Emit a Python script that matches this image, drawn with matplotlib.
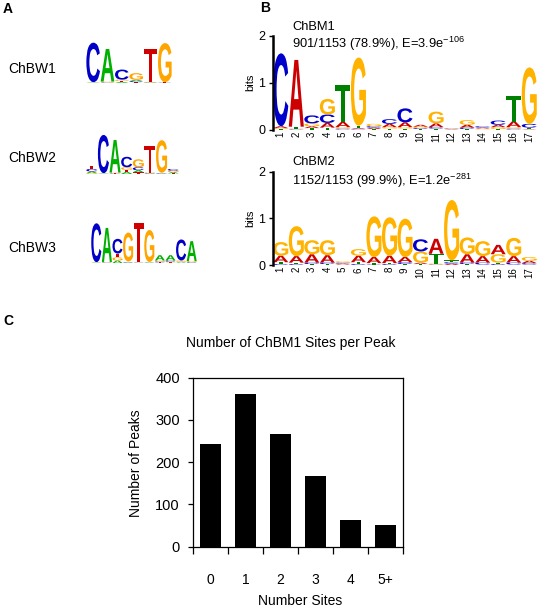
import matplotlib
matplotlib.use("Agg")
import matplotlib.pyplot as plt
from matplotlib.textpath import TextPath
from matplotlib.patches import PathPatch
from matplotlib.font_manager import FontProperties
from matplotlib.transforms import Affine2D

plt.rcParams['font.family'] = ['Liberation Sans', 'DejaVu Sans']
plt.rcParams['mathtext.fontset'] = 'custom'
plt.rcParams['mathtext.rm'] = 'Liberation Sans'
plt.rcParams['mathtext.it'] = 'Liberation Sans:italic'
plt.rcParams['mathtext.bf'] = 'Liberation Sans:bold'

# ---------------- data ----------------
# Panel A logos (bits per letter per position)
bw1_A = [0.02, 1.55, 0.05, 0.06, 0.02, 0.01]
bw1_C = [1.88, 0.02, 0.48, 0.05, 0.01, 0.01]
bw1_G = [0.01, 0.04, 0.06, 0.32, 0.02, 1.86]
bw1_T = [0.01, 0.01, 0.05, 0.04, 1.57, 0.02]

bw2_A = [0.08, 0.02, 1.55, 0.10, 0.10, 0.02, 0.02, 0.06]
bw2_C = [0.12, 1.82, 0.02, 0.50, 0.14, 0.02, 0.02, 0.08]
bw2_G = [0.04, 0.01, 0.03, 0.12, 0.38, 0.03, 1.55, 0.07]
bw2_T = [0.14, 0.01, 0.02, 0.10, 0.08, 1.28, 0.02, 0.03]

bw3_A = [0.02, 1.62, 0.12, 0.02, 0.01, 0.02, 0.25, 0.25, 0.04, 0.95]
bw3_C = [1.85, 0.02, 0.70, 0.02, 0.01, 0.01, 0.04, 0.05, 1.00, 0.03]
bw3_G = [0.01, 0.02, 0.15, 1.38, 0.01, 1.52, 0.05, 0.04, 0.06, 0.05]
bw3_T = [0.01, 0.01, 0.18, 0.03, 1.88, 0.02, 0.03, 0.03, 0.02, 0.01]

bw_names = ["ChBW1", "ChBW2", "ChBW3"]

# Panel B logos
bm_positions = list(range(1, 18))
bm1_A = [0.04, 1.42, 0.04, 0.10, 0.11, 0.02, 0.03, 0.07, 0.10, 0.04, 0.08, 0.01, 0.06, 0.02, 0.05, 0.12, 0.01]
bm1_C = [1.55, 0.01, 0.17, 0.18, 0.02, 0.01, 0.03, 0.10, 0.30, 0.02, 0.03, 0.01, 0.03, 0.03, 0.09, 0.02, 0.08]
bm1_G = [0.02, 0.01, 0.06, 0.33, 0.03, 1.45, 0.05, 0.03, 0.03, 0.03, 0.25, 0.01, 0.10, 0.01, 0.04, 0.03, 1.20]
bm1_T = [0.01, 0.04, 0.03, 0.04, 0.78, 0.05, 0.01, 0.02, 0.02, 0.01, 0.02, 0.01, 0.01, 0.01, 0.01, 0.55, 0.03]

bm2_A = [0.14, 0.14, 0.18, 0.16, 0.02, 0.14, 0.13, 0.16, 0.11, 0.03, 0.32, 0.03, 0.18, 0.14, 0.20, 0.14, 0.05]
bm2_C = [0.02, 0.02, 0.03, 0.03, 0.02, 0.02, 0.01, 0.02, 0.04, 0.26, 0.01, 0.03, 0.03, 0.04, 0.02, 0.04, 0.03]
bm2_G = [0.29, 0.64, 0.30, 0.32, 0.03, 0.14, 0.87, 0.82, 0.82, 0.24, 0.02, 1.29, 0.36, 0.32, 0.18, 0.39, 0.08]
bm2_T = [0.04, 0.03, 0.02, 0.02, 0.01, 0.04, 0.03, 0.02, 0.02, 0.02, 0.21, 0.04, 0.02, 0.01, 0.03, 0.01, 0.01]

bm_titles = ["ChBM1", "ChBM2"]
bm_stats = ["901/1153 (78.9%), E=3.9e$^{-106}$", "1152/1153 (99.9%), E=1.2e$^{-281}$"]

# Panel C bar chart
site_labels = ["0", "1", "2", "3", "4", "5+"]
peak_counts = [242, 362, 267, 166, 62, 50]

# ---------------- drawing helpers ----------------
W, H = 539, 609
fig = plt.figure(figsize=(W / 100, H / 100), dpi=100)

def px_axes(left, top, right, bottom):
    return fig.add_axes([left / W, 1 - bottom / H, (right - left) / W, (bottom - top) / H])

def ftext(x, y, s, **kw):
    return fig.text(x / W, 1 - y / H, s, **kw)

LOGO_FP = FontProperties(family='Liberation Sans', weight='bold')
_cache = {}

def draw_letter(ax, ch, xc, y, w, h, color):
    if ch not in _cache:
        _cache[ch] = TextPath((0, 0), ch, size=1, prop=LOGO_FP)
    tp = _cache[ch]
    bb = tp.get_extents()
    t = (Affine2D().translate(-bb.x0, -bb.y0)
         .scale(w / bb.width, h / bb.height)
         .translate(xc - w / 2, y))
    ax.add_patch(PathPatch(t.transform_path(tp), facecolor=color,
                           edgecolor='none', lw=0))

def draw_logo(ax, A, C, G, T, colors, width=0.94):
    heights = {'A': A, 'C': C, 'G': G, 'T': T}
    n = len(A)
    for i in range(n):
        stack = sorted((heights[b][i], b) for b in 'ACGT')
        y = 0.0
        for h, b in stack:
            if h > 0:
                draw_letter(ax, b, i + 1, y, width, h, colors[b])
            y += h
    ax.set_xlim(0.5, n + 0.5)
    ax.set_ylim(0, 2)

weblogo_colors = {'A': '#00B000', 'C': '#0000C8', 'G': '#FFA500', 'T': '#D00000'}
meme_colors = {'A': '#CC0000', 'C': '#0000CC', 'G': '#FFB300', 'T': '#008000'}

# ---------------- Panel A ----------------
ftext(3, 9, "A", fontsize=10, fontweight='bold', va='center', ha='left')
bw_data = [(bw1_A, bw1_C, bw1_G, bw1_T), (bw2_A, bw2_C, bw2_G, bw2_T), (bw3_A, bw3_C, bw3_G, bw3_T)]
bw_boxes = [(86, 41, 172, 83), (86, 132, 179, 174), (91, 221, 197, 263)]
bw_label_y = [69, 158, 248]
for name, d, box, ly in zip(bw_names, bw_data, bw_boxes, bw_label_y):
    ax = px_axes(*box)
    draw_logo(ax, *d, weblogo_colors, width=0.95)
    ax.axis('off')
    ftext(8, ly, name, fontsize=10, va='center', ha='left')

# ---------------- Panel B ----------------
ftext(260, 8, "B", fontsize=10, fontweight='bold', va='center', ha='left')
bm_data = [(bm1_A, bm1_C, bm1_G, bm1_T), (bm2_A, bm2_C, bm2_G, bm2_T)]
bm_boxes = [(273, 35.5, 537, 129.5), (273, 171.5, 537, 265)]
bm_title_y = [(27, 44), (162, 181)]
for title, stats, d, box, ty in zip(bm_titles, bm_stats, bm_data, bm_boxes, bm_title_y):
    ax = px_axes(*box)
    draw_logo(ax, *d, meme_colors, width=0.97)
    for s in ['top', 'right', 'bottom']:
        ax.spines[s].set_visible(False)
    ax.spines['left'].set_linewidth(1.8)
    ax.set_yticks([0, 1, 2])
    ax.tick_params(axis='y', length=3, width=1, pad=2.4, labelsize=9)
    ax.set_xticks(bm_positions)
    ax.set_xticklabels([str(p) for p in bm_positions], rotation=90, fontsize=7)
    ax.tick_params(axis='x', length=0, pad=1.5)
    ax.set_ylabel("bits", fontsize=8, labelpad=2)
    ax.patch.set_visible(False)
    ftext(292, ty[0], title, fontsize=9.3, va='center', ha='left')
    ftext(292, ty[1], stats, fontsize=9.3, va='center', ha='left')

# ---------------- Panel C ----------------
ftext(3, 321, "C", fontsize=10, fontweight='bold', va='center', ha='left')
axc = px_axes(193, 377.5, 403, 546.5)
x = list(range(len(peak_counts)))
axc.bar(x, peak_counts, width=0.62, color='black')
axc.set_xlim(-0.5, len(peak_counts) - 0.5)
axc.set_ylim(0, 400)
axc.set_yticks([0, 100, 200, 300, 400])
axc.tick_params(axis='y', direction='out', length=3.5, width=0.9, pad=6, labelsize=10.5)
axc.set_xticks(x)
axc.set_xticklabels(site_labels, fontsize=10)
axc.set_xticks([i - 0.5 for i in range(len(peak_counts) + 1)], minor=True)
axc.tick_params(axis='x', which='major', length=0, pad=19)
axc.tick_params(axis='x', which='minor', direction='out', length=5, width=0.9)
for s in axc.spines.values():
    s.set_linewidth(0.9)
ftext(291, 343, "Number of ChBM1 Sites per Peak", fontsize=10, va='center', ha='center')
ftext(136, 463, "Number of Peaks", fontsize=10, rotation=90, va='center', ha='center')
ftext(300, 601, "Number Sites", fontsize=10, va='center', ha='center')

fig.savefig("out.png", dpi=100)
